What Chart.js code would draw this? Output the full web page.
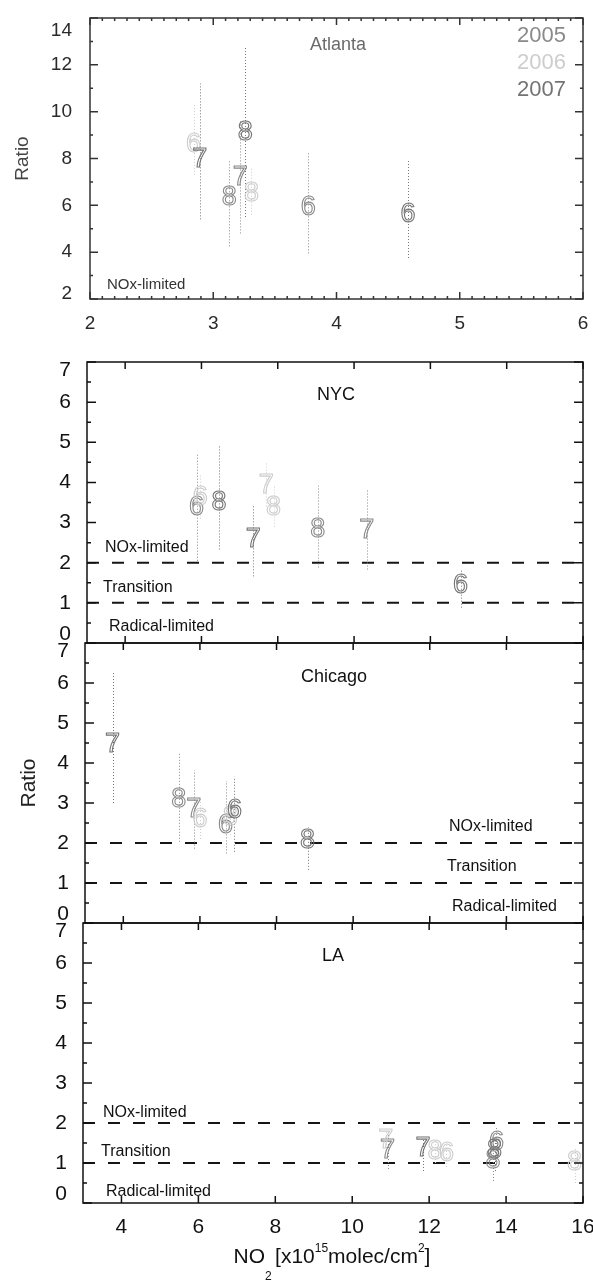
<!DOCTYPE html>
<html>
<head>
<meta charset="utf-8">
<title>Ratio vs NO2</title>
<script src="https://cdn.jsdelivr.net/npm/chart.js@4.4.1/dist/chart.umd.min.js"></script>
<style>
  body { margin: 0; background: #fff; }
  #wrap { position: relative; width: 593px; height: 1280px; overflow: hidden; }
  canvas { position: absolute; left: 0; }
</style>
</head>
<body>
<div id="wrap">
  <canvas id="atlanta" width="593" height="340" style="top:0px"></canvas>
  <canvas id="nyc" width="593" height="310" style="top:340px"></canvas>
  <canvas id="chicago" width="593" height="300" style="top:630px"></canvas>
  <canvas id="la" width="593" height="370" style="top:910px"></canvas>
</div>
<script>
// years and their grey shades
const years = ['2005', '2006', '2007'];
const yearColors = ['#8a8a8a', '#cdcdcd', '#747474'];

// axis ranges and tick labels
const atlNo2Range = [2, 6];
const atlRatioRange = [2, 14];
const atlXTicks = [2, 3, 4, 5, 6];
const atlYTicks = [2, 4, 6, 8, 10, 12, 14];
const no2Range = [3, 16];
const ratioRange = [0, 7];
const no2Ticks = [4, 6, 8, 10, 12, 14, 16];
const ratioTicks = [0, 1, 2, 3, 4, 5, 6, 7];
const limitRatios = [2, 1];

// Atlanta (month label, year, NO2, ratio, error bar low/high)
const atlMonth = [6, 7, 8, 7, 8, 8, 6, 6];
const atlYear  = ['2006', '2007', '2005', '2005', '2007', '2006', '2005', '2007'];
const atlNo2   = [2.84, 2.89, 3.13, 3.22, 3.26, 3.31, 3.77, 4.58];
const atlRatio = [8.6, 7.95, 6.35, 7.2, 9.1, 6.5, 5.9, 5.6];
const atlLow   = [7.3, 5.4, 4.25, 4.8, 5.5, 5.6, 3.95, 3.75];
const atlHigh  = [10.3, 11.2, 7.9, 9.6, 12.75, 7.6, 8.3, 7.95];

// NYC
const nycMonth = [6, 6, 8, 7, 7, 8, 8, 7, 6];
const nycYear  = ['2005', '2006', '2007', '2007', '2006', '2006', '2005', '2005', '2007'];
const nycNo2   = [5.87, 5.97, 6.46, 7.36, 7.70, 7.89, 9.05, 10.33, 12.79];
const nycRatio = [3.38, 3.62, 3.5, 2.58, 3.92, 3.38, 2.83, 2.79, 1.42];
const nycLow   = [2.05, 3.1, 2.33, 1.66, 3.4, 2.9, 1.88, 1.83, 0.88];
const nycHigh  = [4.72, 4.2, 4.92, 3.45, 4.5, 3.9, 3.92, 3.8, 1.85];

// Chicago
const chiMonth = [7, 8, 7, 6, 6, 8, 6, 8];
const chiYear  = ['2007', '2005', '2005', '2006', '2005', '2006', '2007', '2007'];
const chiNo2   = [3.72, 5.45, 5.84, 6.0, 6.67, 6.79, 6.9, 8.81];
const chiRatio = [4.47, 3.09, 2.84, 2.59, 2.43, 2.63, 2.8, 2.06];
const chiLow   = [3.0, 2.03, 1.86, 2.1, 1.74, 2.2, 1.78, 1.33];
const chiHigh  = [6.27, 4.28, 3.82, 3.1, 3.55, 3.1, 3.66, 2.39];

// LA
const laMonth = [7, 7, 7, 8, 6, 8, 8, 6, 8];
const laYear  = ['2006', '2005', '2007', '2006', '2006', '2005', '2007', '2005', '2006'];
const laNo2   = [10.87, 10.92, 11.84, 12.15, 12.45, 13.66, 13.7, 13.75, 15.78];
const laRatio = [1.55, 1.3, 1.35, 1.28, 1.23, 1.05, 1.3, 1.5, 1.0];
const laLow   = [1.3, 0.85, 0.8, 1.0, 0.9, 0.55, 0.8, 1.1, 0.5];
const laHigh  = [1.8, 1.76, 1.6, 1.55, 1.5, 1.55, 1.6, 1.9, 1.35];

const fontFamily = '"Liberation Sans", Arial, Helvetica, sans-serif';
Chart.defaults.font.family = fontFamily;

// split the points of a panel into one dataset per year
function buildDatasets(month, year, no2, ratio, low, high) {
  return years.map((yr, k) => {
    const idx = year.map((v, i) => (v === yr ? i : -1)).filter(i => i >= 0);
    return {
      label: yr,
      data: idx.map(i => ({ x: no2[i], y: ratio[i] })),
      months: idx.map(i => month[i]),
      low: idx.map(i => low[i]),
      high: idx.map(i => high[i]),
      color: yearColors[k],
      pointRadius: 0
    };
  });
}

// dashed regime limits
function limitDatasets() {
  return limitRatios.map(r => ({
    label: 'limit ' + r,
    data: no2Range.map(v => ({ x: v, y: r })),
    showLine: true,
    borderColor: '#151515',
    borderWidth: 2,
    borderDash: [12, 13],
    pointRadius: 0,
    fill: false
  }));
}

// scales must not push the plot area around, its size is fixed
function noScalePadding(s) {
  s.paddingTop = 0;
  s.paddingBottom = 0;
  s.paddingLeft = 0;
  s.paddingRight = 0;
}

// box plus inward major / minor tick marks
const frameTicks = {
  id: 'frameTicks',
  afterDraw(chart, args, o) {
    const { ctx, chartArea: a, scales } = chart;
    const xs = scales.x, ys = scales.y;
    ctx.save();
    ctx.strokeStyle = o.color;
    ctx.lineWidth = o.lineWidth;
    ctx.strokeRect(a.left, a.top, a.right - a.left, a.bottom - a.top);
    ctx.beginPath();
    const xTick = (v, len) => {
      const p = xs.getPixelForValue(v);
      ctx.moveTo(p, a.bottom); ctx.lineTo(p, a.bottom - len);
      ctx.moveTo(p, a.top); ctx.lineTo(p, a.top + len);
    };
    const yTick = (v, len) => {
      const p = ys.getPixelForValue(v);
      ctx.moveTo(a.left, p); ctx.lineTo(a.left + len, p);
      ctx.moveTo(a.right, p); ctx.lineTo(a.right - len, p);
    };
    o.xMajor.forEach(v => xTick(v, o.xMajorLen));
    o.yMajor.forEach(v => yTick(v, o.yMajorLen));
    if (o.xMinorStep) {
      for (let v = xs.min; v < xs.max + 1e-6; v += o.xMinorStep) {
        if (!o.xMajor.some(m => Math.abs(m - v) < 1e-6)) xTick(v, o.minorLen);
      }
    }
    if (o.yMinorStep) {
      for (let v = ys.min; v < ys.max + 1e-6; v += o.yMinorStep) {
        if (!o.yMajor.some(m => Math.abs(m - v) < 1e-6)) yTick(v, o.minorLen);
      }
    }
    ctx.stroke();
    ctx.restore();
  }
};

// dotted error bars and month digits at every point
const panelMarks = {
  id: 'panelMarks',
  afterDatasetsDraw(chart) {
    const { ctx, chartArea: a, scales } = chart;
    const ys = scales.y;
    ctx.save();
    ctx.beginPath();
    ctx.rect(a.left, a.top, a.right - a.left, a.bottom - a.top);
    ctx.clip();
    const sets = chart.data.datasets.map((ds, i) => [ds, chart.getDatasetMeta(i)]).filter(s => s[0].months);
    ctx.lineWidth = 1;
    ctx.setLineDash([1, 2]);
    sets.forEach(([ds, meta]) => {
      ctx.strokeStyle = ds.color;
      meta.data.forEach((pt, j) => {
        ctx.beginPath();
        ctx.moveTo(Math.round(pt.x) + 0.5, ys.getPixelForValue(ds.low[j]));
        ctx.lineTo(Math.round(pt.x) + 0.5, ys.getPixelForValue(ds.high[j]));
        ctx.stroke();
      });
    });
    ctx.setLineDash([]);
    ctx.font = '27px ' + fontFamily;
    ctx.textAlign = 'center';
    ctx.textBaseline = 'middle';
    ctx.lineWidth = 1.1;
    sets.forEach(([ds, meta]) => {
      ctx.strokeStyle = ds.color;
      meta.data.forEach((pt, j) => ctx.strokeText(String(ds.months[j]), pt.x, pt.y));
    });
    ctx.restore();
  }
};

// panel names, regime labels, legend, bottom axis title
const panelText = {
  id: 'panelText',
  afterDraw(chart, args, o) {
    const { ctx, chartArea: a } = chart;
    ctx.save();
    ctx.textBaseline = 'middle';
    (o.items || []).forEach(t => {
      ctx.font = t.size + 'px ' + fontFamily;
      ctx.fillStyle = t.color;
      ctx.textAlign = t.align;
      const x = t.align === 'right' ? a.right - t.dx : a.left + t.dx;
      ctx.fillText(t.text, x, a.top + t.dy);
    });
    if (o.axisTitle) {
      let w = 0;
      o.axisTitle.forEach(s => {
        ctx.font = s.size + 'px ' + fontFamily;
        s.w = ctx.measureText(s.text).width;
        w += s.w;
      });
      let x = o.titleX - w / 2;
      ctx.textAlign = 'left';
      ctx.fillStyle = '#111';
      o.axisTitle.forEach(s => {
        ctx.font = s.size + 'px ' + fontFamily;
        ctx.fillText(s.text, x, o.titleY + s.dy);
        x += s.w;
      });
    }
    ctx.restore();
  }
};

function regimeItems(dx, dy, align) {
  return [
    { text: 'NOx-limited', dx: dx[0], dy: dy[0], size: 16, color: '#111', align },
    { text: 'Transition', dx: dx[1], dy: dy[1], size: 16, color: '#111', align },
    { text: 'Radical-limited', dx: dx[2], dy: dy[2], size: 16, color: '#111', align }
  ];
}

function makePanel(id, p) {
  const datasets = (p.limits ? limitDatasets() : []).concat(
    buildDatasets(p.month, p.year, p.no2, p.ratio, p.low, p.high));
  return new Chart(document.getElementById(id), {
    type: 'scatter',
    data: { datasets },
    options: {
      responsive: false,
      animation: false,
      devicePixelRatio: 1,
      events: [],
      layout: { autoPadding: false, padding: { left: 0, right: 10, top: p.padTop, bottom: p.padBottom } },
      plugins: {
        legend: { display: false },
        tooltip: { enabled: false },
        frameTicks: p.frame,
        panelText: p.text
      },
      scales: {
        x: {
          type: 'linear',
          min: p.xRange[0],
          max: p.xRange[1],
          display: p.showX,
          afterBuildTicks: s => { s.ticks = p.xTicks.map(v => ({ value: v })); },
          afterFit: s => { noScalePadding(s); if (p.showX) s.height = p.xHeight; },
          grid: { display: false },
          border: { display: false },
          ticks: { font: { size: p.xFont }, color: p.tickColor, padding: p.xPad, maxRotation: 0, autoSkip: false }
        },
        y: {
          type: 'linear',
          min: p.yRange[0],
          max: p.yRange[1],
          afterBuildTicks: s => { s.ticks = p.yTicks.map(v => ({ value: v })); },
          afterFit: s => { noScalePadding(s); s.width = p.yWidth; },
          grid: { display: false },
          border: { display: false },
          title: p.yTitle || { display: false },
          ticks: {
            padding: p.yPad,
            color: p.tickColor,
            autoSkip: false,
            callback: v => (v === p.yRange[0] ? [String(v), ''] : v === p.yRange[1] ? ['', String(v)] : String(v)),
            font: c => ({ size: p.yFont, lineHeight: c.tick && c.tick.value === p.yRange[0] ? p.lowLH : c.tick && c.tick.value === p.yRange[1] ? p.highLH : 1.2 })
          }
        }
      }
    },
    plugins: [frameTicks, panelMarks, panelText]
  });
}

const bottomFrame = { color: '#111', lineWidth: 1.5, xMajor: no2Ticks, yMajor: ratioTicks,
  xMajorLen: 7, yMajorLen: 9, minorLen: 4, xMinorStep: 0, yMinorStep: 0.5 };

makePanel('atlanta', {
  month: atlMonth, year: atlYear, no2: atlNo2, ratio: atlRatio, low: atlLow, high: atlHigh,
  limits: false, xRange: atlNo2Range, yRange: atlRatioRange, xTicks: atlXTicks, yTicks: atlYTicks,
  padTop: 18, padBottom: 0, showX: true, xHeight: 41, yWidth: 90,
  xFont: 19, yFont: 19, xPad: 5, yPad: 10, tickColor: '#2a2a2a', lowLH: 0.6, highLH: 1.3,
  yTitle: { display: true, text: 'Ratio', color: '#444', font: { size: 19 }, padding: { top: 11, bottom: 0 } },
  frame: { color: '#333', lineWidth: 1.5, xMajor: atlXTicks, yMajor: atlYTicks,
    xMajorLen: 7, yMajorLen: 8, minorLen: 3, xMinorStep: 0.1, yMinorStep: 1 },
  text: {
    items: [
      { text: 'Atlanta', dx: 248, dy: 27, size: 18, color: '#6a6a6a', align: 'center' },
      { text: 'NOx-limited', dx: 17, dy: 267, size: 15, color: '#333', align: 'left' }
    ].concat(years.map((yr, k) => ({ text: yr, dx: 17, dy: 18 + 27 * k, size: 22, color: yearColors[k], align: 'right' })))
  }
});

makePanel('nyc', {
  month: nycMonth, year: nycYear, no2: nycNo2, ratio: nycRatio, low: nycLow, high: nycHigh,
  limits: true, xRange: no2Range, yRange: ratioRange, xTicks: no2Ticks, yTicks: ratioTicks,
  padTop: 22, padBottom: 7, showX: false, yWidth: 87,
  xFont: 21, yFont: 21, xPad: 6, yPad: 8, tickColor: '#111', lowLH: 0.8, highLH: 0.8,
  frame: bottomFrame,
  text: {
    items: [{ text: 'NYC', dx: 249, dy: 33, size: 18, color: '#111', align: 'center' }]
      .concat(regimeItems([18, 16, 22], [186, 226, 265], 'left'))
  }
});

makePanel('chicago', {
  month: chiMonth, year: chiYear, no2: chiNo2, ratio: chiRatio, low: chiLow, high: chiHigh,
  limits: true, xRange: no2Range, yRange: ratioRange, xTicks: no2Ticks, yTicks: ratioTicks,
  padTop: 13, padBottom: 7, showX: false, yWidth: 85,
  xFont: 21, yFont: 21, xPad: 6, yPad: 8, tickColor: '#111', lowLH: 0.8, highLH: 0.8,
  yTitle: { display: true, text: 'Ratio', color: '#222', font: { size: 21 }, padding: { top: 17, bottom: 0 } },
  frame: bottomFrame,
  text: {
    items: [{ text: 'Chicago', dx: 249, dy: 34, size: 18, color: '#111', align: 'center' }]
      .concat(regimeItems([364, 362, 367], [184, 224, 264], 'left'))
  }
});

makePanel('la', {
  month: laMonth, year: laYear, no2: laNo2, ratio: laRatio, low: laLow, high: laHigh,
  limits: true, xRange: no2Range, yRange: ratioRange, xTicks: no2Ticks, yTicks: ratioTicks,
  padTop: 13, padBottom: 0, showX: true, xHeight: 77, yWidth: 83,
  xFont: 21, yFont: 21, xPad: 4, yPad: 8, tickColor: '#111', lowLH: 0.8, highLH: 0.8,
  frame: bottomFrame,
  text: {
    items: [{ text: 'LA', dx: 250, dy: 33, size: 18, color: '#111', align: 'center' }]
      .concat(regimeItems([20, 18, 23], [190, 229, 269], 'left')),
    titleX: 332,
    titleY: 347,
    axisTitle: [
      { text: 'NO', size: 21, dy: 0 },
      { text: '2 ', size: 12, dy: 20 },
      { text: '[x10', size: 21, dy: 0 },
      { text: '15', size: 12, dy: -8 },
      { text: 'molec/cm', size: 21, dy: 0 },
      { text: '2', size: 12, dy: -8 },
      { text: ']', size: 21, dy: 0 }
    ]
  }
});
</script>
</body>
</html>
